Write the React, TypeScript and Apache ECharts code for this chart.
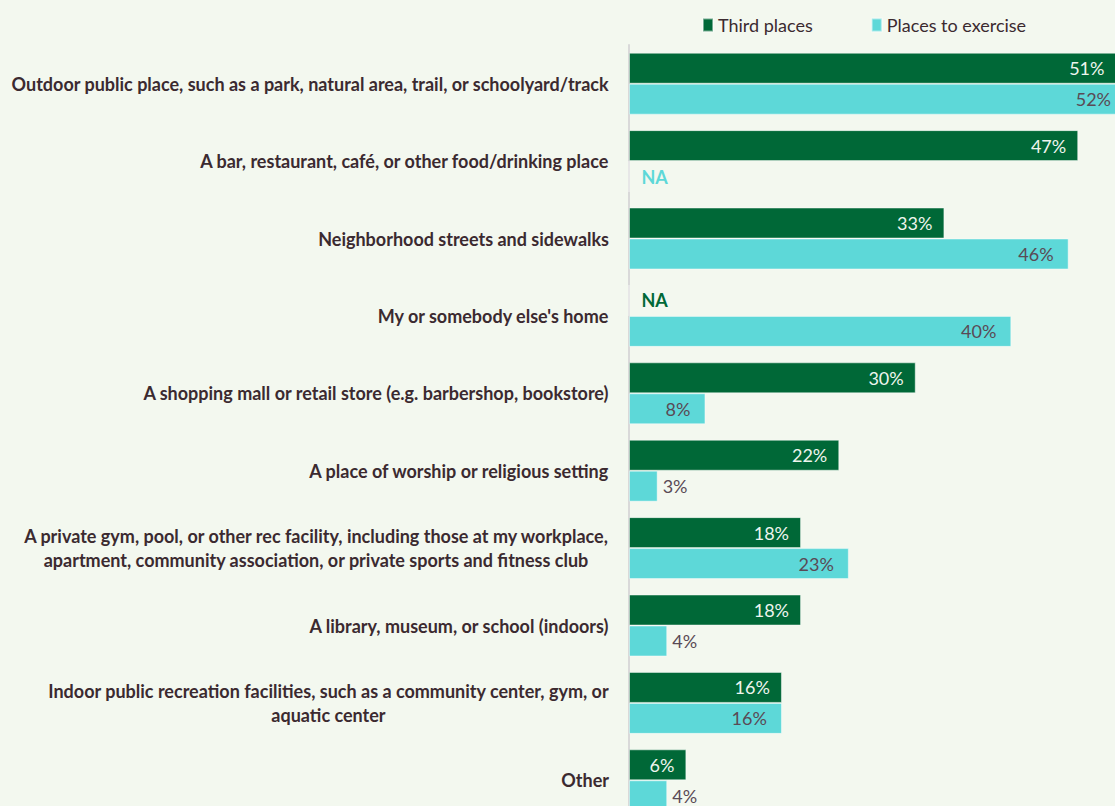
import React, { useEffect, useRef } from "react";
import * as echarts from "echarts";

// Where people go: third places vs. places to exercise (percent of respondents)
const categories: string[] = [
  "Outdoor public place, such as a park, natural area, trail, or schoolyard/track",
  "A bar, restaurant, café, or other food/drinking place",
  "Neighborhood streets and sidewalks",
  "My or somebody else's home",
  "A shopping mall or retail store (e.g. barbershop, bookstore)",
  "A place of worship or religious setting",
  "A private gym, pool, or other rec facility, including those at my workplace,\napartment, community association, or private sports and fitness club",
  "A library, museum, or school (indoors)",
  "Indoor public recreation facilities, such as a community center, gym, or\naquatic center",
  "Other",
];

// null = not asked (shown as "NA")
const thirdPlaces: (number | null)[] = [51, 47, 33, null, 30, 22, 18, 18, 16, 6];
const placesToExercise: (number | null)[] = [52, null, 46, 40, 8, 3, 23, 4, 16, 4];

const seriesNames = ["Third places", "Places to exercise"];

const GREEN = "#006837";
const CYAN = "#5dd8d8";
const TEXT = "#3b2a30";
const FONT = "Lato, 'Open Sans', sans-serif";
const FS = 18;

function buildData(
  values: (number | null)[],
  color: string,
  insideColor: string,
  insideDistance: number
) {
  return values.map((v) => {
    if (v === null) {
      return {
        value: 0,
        label: {
          show: true,
          position: "right",
          distance: 12,
          formatter: "NA",
          color,
          fontWeight: "bold",
          fontSize: FS,
          fontFamily: FONT,
        },
      };
    }
    const narrow = v < 6;
    return {
      value: v,
      label: {
        show: true,
        position: narrow ? "right" : "insideRight",
        distance: narrow ? 5 : insideDistance,
        color: narrow ? "#5a4a55" : insideColor,
        formatter: "{c}%",
        fontSize: FS,
        fontFamily: FONT,
      },
    };
  });
}

export default function App() {
  const ref = useRef<HTMLDivElement>(null);

  useEffect(() => {
    if (!ref.current) return;
    const chart = echarts.init(ref.current, null, { renderer: "svg" });
    chart.setOption({
      animation: false,
      backgroundColor: "#f3f8ef",
      textStyle: { fontFamily: FONT },
      legend: {
        data: seriesNames,
        left: 697,
        top: 11,
        icon: "rect",
        itemWidth: 10,
        itemHeight: 13,
        itemGap: 58,
        textStyle: { color: TEXT, fontSize: FS, fontFamily: FONT },
      },
      grid: {
        left: 629,
        top: 45,
        width: 497,
        height: 774,
        containLabel: false,
        outerBoundsMode: "none",
      },
      xAxis: {
        type: "value",
        min: 0,
        max: 52,
        show: false,
      },
      yAxis: {
        type: "category",
        data: categories,
        inverse: true,
        axisLine: { show: true, lineStyle: { color: "#d9d9d9", width: 2 } },
        axisTick: { show: false },
        splitLine: { show: false },
        axisLabel: {
          margin: 20,
          color: TEXT,
          fontSize: FS,
          fontWeight: "bold",
          fontFamily: FONT,
          lineHeight: 24,
          formatter: (val: string) =>
            val
              .split("\n")
              .map((line) => `{c|${line}}`)
              .join("\n"),
          rich: {
            c: {
              align: "center",
              color: TEXT,
              fontSize: FS,
              fontWeight: "bold",
              fontFamily: FONT,
              lineHeight: 24,
            },
          },
        },
      },
      series: [
        {
          name: seriesNames[0],
          type: "bar",
          barGap: "0%",
          barCategoryGap: "20%",
          itemStyle: { color: GREEN, borderColor: "rgba(255,255,255,0.45)", borderWidth: 1 },
          data: buildData(thirdPlaces, GREEN, "#eef5ee", 12),
        },
        {
          name: seriesNames[1],
          type: "bar",
          barGap: "0%",
          barCategoryGap: "20%",
          itemStyle: { color: CYAN, borderColor: "rgba(255,255,255,0.45)", borderWidth: 1 },
          data: buildData(placesToExercise, CYAN, "#5a4a55", 15),
        },
      ],
    });
    return () => chart.dispose();
  }, []);

  return (
    <div
      ref={ref}
      style={{ position: "absolute", left: 0, top: 0, width: 1115, height: 806 }}
    />
  );
}
